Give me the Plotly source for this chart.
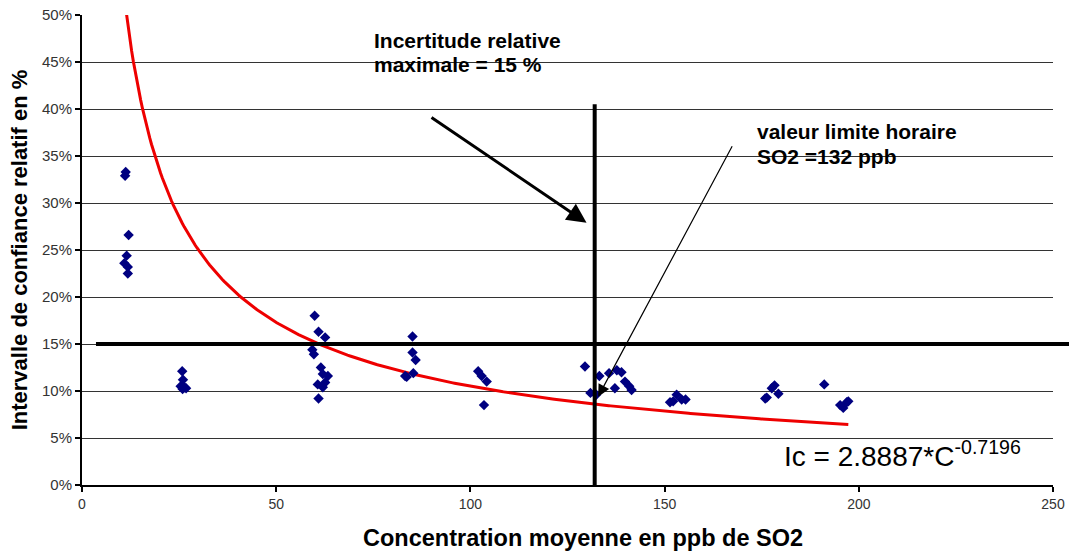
import plotly.graph_objects as go
import numpy as np

# ---- data ----
conc_ppb = [11.25, 11.1, 12.0, 11.5, 10.9, 11.8, 11.8,
            25.8, 26.0, 25.4, 26.4, 25.9, 26.8,
            59.9, 60.9, 62.6, 59.3, 59.7, 61.5, 62.0, 63.3, 60.7, 62.0, 62.6, 60.9,
            85.1, 85.1, 85.9, 83.2, 85.3, 83.6,
            102.0, 102.9, 104.2, 103.5,
            129.5, 133.2, 135.7, 137.7, 138.9, 139.8, 140.9, 141.5, 137.2, 130.9, 132.4,
            151.4, 152.2, 153.1, 154.4, 155.4,
            175.9, 176.3, 177.6, 178.3, 179.3,
            191.1,
            195.2, 196.0, 196.9, 197.3]
ic_pct = [33.3, 32.9, 26.6, 24.4, 23.6, 23.2, 22.5,
          12.1, 11.2, 10.5, 10.4, 10.2, 10.3,
          18.0, 16.3, 15.7, 14.4, 13.9, 12.5, 11.8, 11.6, 10.7, 10.4, 10.9, 9.2,
          15.8, 14.1, 13.3, 11.6, 11.9, 11.5,
          12.1, 11.6, 11.0, 8.5,
          12.6, 11.6, 11.9, 12.2, 12.0, 11.0, 10.5, 10.1, 10.3, 9.8, 9.6,
          8.8, 8.9, 9.6, 9.1, 9.1,
          9.2, 9.3, 10.3, 10.6, 9.7,
          10.7,
          8.5, 8.2, 8.8, 8.9]

# power trend line printed on the chart: Ic = 2.8887 * C^-0.7196
trend_coef = 2.8887
trend_exp = -0.7196
limit_ppb = 132
max_uncert_pct = 15

x_ticks = [0, 50, 100, 150, 200, 250]
y_ticks = [0, 5, 10, 15, 20, 25, 30, 35, 40, 45, 50]
y_tick_labels = ["0%", "5%", "10%", "15%", "20%", "25%", "30%", "35%", "40%", "45%", "50%"]

trend_x = np.linspace(min(conc_ppb), max(conc_ppb), 400)
trend_y = trend_coef * trend_x ** trend_exp * 100

fig = go.Figure()
fig.add_trace(go.Scatter(x=trend_x, y=trend_y, mode="lines",
                         line=dict(color="#ee0000", width=3), hoverinfo="skip"))
fig.add_trace(go.Scatter(x=conc_ppb, y=ic_pct, mode="markers",
                         marker=dict(symbol="diamond", size=8, color="#000080")))

# 15 % horizontal line (extends beyond the plot to the right)
fig.add_shape(type="line", xref="paper", yref="y", x0=0.0144, x1=1.02,
              y0=max_uncert_pct, y1=max_uncert_pct, line=dict(color="black", width=4))
# 132 ppb vertical line
fig.add_shape(type="line", xref="x", yref="y", x0=limit_ppb, x1=limit_ppb,
              y0=0, y1=40.5, line=dict(color="black", width=4))

font = "Liberation Sans, Arial, sans-serif"

# arrows
fig.add_annotation(x=129.9, y=27.9, ax=89.6, ay=39.2, xref="x", yref="y",
                   axref="x", ayref="y", text="", showarrow=True,
                   arrowhead=2, arrowsize=1.3, arrowwidth=3, arrowcolor="black", standoff=0)
fig.add_annotation(x=132.9, y=9.4, ax=167.6, ay=36.2, xref="x", yref="y",
                   axref="x", ayref="y", text="", showarrow=True,
                   arrowhead=2, arrowsize=2, arrowwidth=1.2, arrowcolor="black", standoff=0)

# texts
label_font = dict(family=font, size=21, color="black")
for txt, xx, yy in [("Incertitude relative", 74.6, 47.3),
                    ("maximale = 15 %", 74.6, 44.7),
                    ("valeur limite horaire", 173.3, 37.6),
                    ("SO2 =132 ppb", 173.3, 34.9)]:
    fig.add_annotation(x=xx, y=yy, xref="x", yref="y", xanchor="left", yanchor="middle",
                       text="<b>" + txt + "</b>", showarrow=False, font=label_font)
fig.add_annotation(x=180.3, y=3.3, xref="x", yref="y", xanchor="left", yanchor="middle",
                   text="Ic = 2.8887*C<sup>-0.7196</sup>", showarrow=False,
                   font=dict(family=font, size=28, color="black"))

# x-axis title (placed slightly right of centre as in the original)
fig.add_annotation(x=0.5155, y=-0.112, xref="paper", yref="paper",
                   xanchor="center", yanchor="middle", showarrow=False,
                   text="<b>Concentration moyenne en ppb de SO2</b>",
                   font=dict(family=font, size=23.5, color="black"))

fig.update_layout(
    width=1069, height=555,
    margin=dict(l=82, r=16, t=15, b=70),
    paper_bgcolor="white", plot_bgcolor="white",
    showlegend=False,
    font=dict(family=font, color="black"),
)
fig.update_xaxes(range=[0, 250], tickvals=x_ticks, showgrid=False, zeroline=False,
                 showline=True, linecolor="black", linewidth=2, automargin=False,
                 ticks="outside", ticklen=5, tickwidth=2, tickcolor="black",
                 tickfont=dict(family=font, size=14, color="#333"))
fig.update_yaxes(range=[0, 50], tickvals=y_ticks, ticktext=y_tick_labels,
                 showgrid=True, gridcolor="#333", gridwidth=1, zeroline=False,
                 showline=True, linecolor="black", linewidth=2, automargin=False,
                 ticks="outside", ticklen=5, tickwidth=2, tickcolor="black",
                 tickfont=dict(family=font, size=15, color="#333"),
                 title=dict(text="<b>Intervalle de confiance relatif en %</b>",
                            font=dict(family=font, size=22, color="black"), standoff=8))

fig.write_html("out.html")
